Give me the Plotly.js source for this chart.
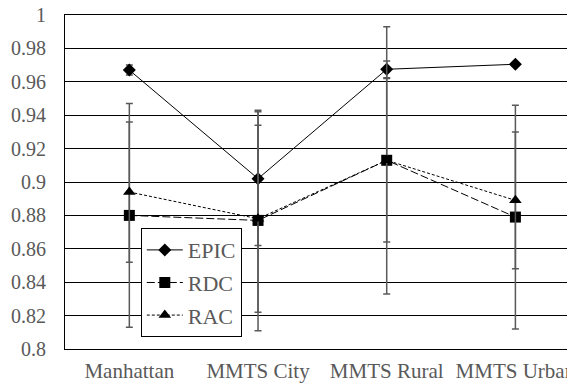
<!DOCTYPE html>
<html>
<head>
<meta charset="utf-8">
<script src="https://cdn.plot.ly/plotly-3.0.1.min.js"></script>
<style>html,body{margin:0;padding:0;overflow:hidden;background:#fff;}#chart{width:567px;height:386px;}</style>
</head>
<body>
<div id="chart"></div>
<script>
const categories = ['Manhattan', 'MMTS City', 'MMTS Rural', 'MMTS Urban'];
const epic = [0.967, 0.902, 0.9675, 0.9705];
const epicErr = [0.003, 0.040, 0.005, 0.001];
const rdc = [0.880, 0.877, 0.913, 0.879];
const rdcErr = [0.067, 0.066, 0.080, 0.067];
const rac = [0.894, 0.878, 0.913, 0.889];
const racErr = [0.042, 0.056, 0.049, 0.041];
const yTicks = [0.8, 0.82, 0.84, 0.86, 0.88, 0.9, 0.92, 0.94, 0.96, 0.98, 1];

const FONT = "'Liberation Serif', 'Times New Roman', serif";
const errStyle = (arr) => ({type: 'data', array: arr, visible: true, color: '#595959', thickness: 1.5, width: 3.5});

const traces = [
  {x: categories, y: epic, name: 'EPIC', type: 'scatter', mode: 'lines+markers', legendgroup: 'a',
   line: {color: '#000', width: 1}, marker: {symbol: 'diamond', size: 10, color: '#000'}, error_y: errStyle(epicErr)},
  {x: categories, y: rdc, name: 'RDC', type: 'scatter', mode: 'lines+markers', legendgroup: 'b',
   line: {color: '#000', width: 1, dash: '8px,3px'}, marker: {symbol: 'square', size: 11, color: '#000'}, error_y: errStyle(rdcErr)},
  {x: categories, y: rac, name: 'RAC', type: 'scatter', mode: 'lines+markers', legendgroup: 'c',
   line: {color: '#000', width: 1, dash: '3px,2px'}, marker: {symbol: 'triangle-up', size: 11, color: '#000'}, error_y: errStyle(racErr)}
];

const layout = {
  width: 567, height: 386,
  margin: {l: 65, r: 0, t: 15, b: 37},
  paper_bgcolor: '#fff', plot_bgcolor: '#fff',
  font: {family: FONT, size: 20, color: '#595959'},
  showlegend: true,
  legend: {x: 0.151, y: 0.362, xanchor: 'left', yanchor: 'top', bgcolor: '#fff', bordercolor: '#000', borderwidth: 1,
           font: {family: FONT, size: 22, color: '#595959'}, tracegroupgap: 1, itemwidth: 36},
  xaxis: {type: 'category', range: [-0.5, 3.401], showgrid: false, zeroline: false, automargin: false,
          showline: true, linecolor: '#000', linewidth: 1, mirror: true, ticks: '', ticklabelstandoff: 3,
          tickfont: {family: FONT, size: 21, color: '#595959'}},
  yaxis: {range: [0.8, 1], tickvals: yTicks, ticktext: yTicks.map(v => String(v)), showgrid: true, gridcolor: '#000', gridwidth: 1,
          zeroline: false, automargin: false, showline: true, linecolor: '#000', linewidth: 1, ticks: '', ticklabelstandoff: 14,
          tickfont: {family: FONT, size: 20, color: '#595959'}}
};

Plotly.newPlot('chart', traces, layout, {displayModeBar: false, staticPlot: true});
</script>
</body>
</html>
